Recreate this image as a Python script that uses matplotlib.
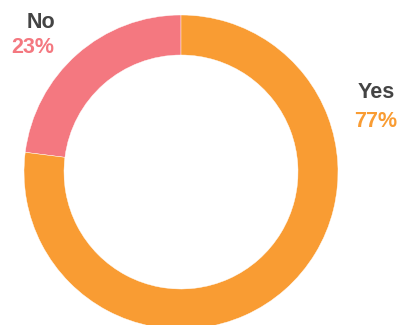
import matplotlib.pyplot as plt

labels = ["No", "Yes"]
shares = [23, 77]
colors = ["#F47880", "#F99C33"]

W, H = 398, 325

fig = plt.figure(figsize=(W / 100, H / 100), dpi=100)
ax = fig.add_axes([0, 0, 1, 1])

ax.pie(
    shares,
    colors=colors,
    startangle=90,
    counterclock=True,
    radius=157,
    center=(181, 153),
    wedgeprops=dict(width=40, edgecolor="white", linewidth=0.3),
)

ax.set_xlim(0, W)
ax.set_ylim(0, H)
ax.set_aspect("equal")
ax.axis("off")

font = dict(family="Liberation Sans", fontweight="bold", fontsize=15.5)

# category names in dark grey, percentages in the slice colour
ax.text(55, 297, labels[0], ha="right", va="baseline", color="#444444", **font)
ax.text(54, 272, f"{shares[0]}%", ha="right", va="baseline", color=colors[0], **font)
ax.text(395, 227, labels[1], ha="right", va="baseline", color="#444444", **font)
ax.text(397, 198, f"{shares[1]}%", ha="right", va="baseline", color=colors[1], **font)

fig.savefig("out.png", dpi=100)
